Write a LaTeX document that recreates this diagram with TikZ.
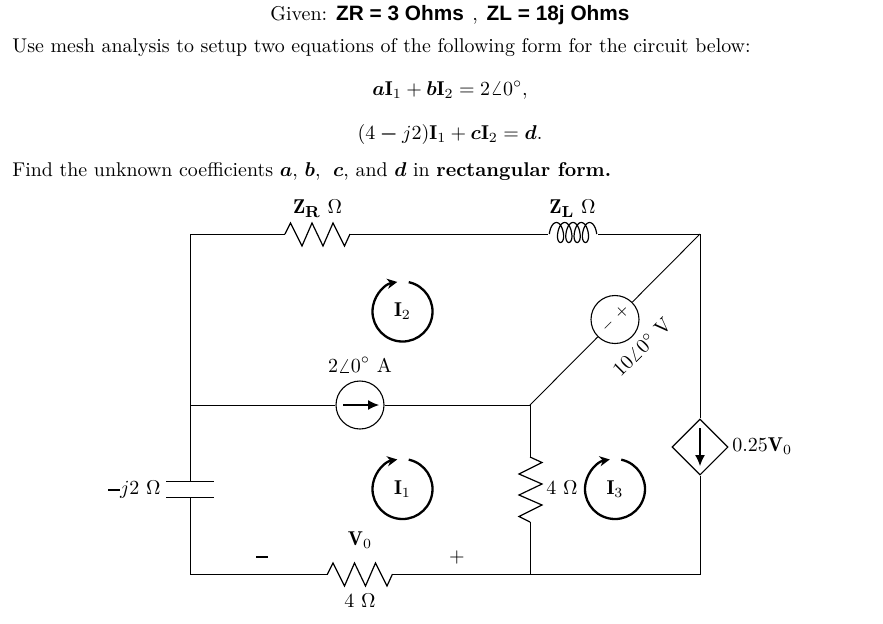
\documentclass[tikz,border=0pt]{standalone}
\usepackage{amsmath}
\usepackage{fontspec}
\newfontfamily\givenfont{Liberation Sans}
\usetikzlibrary{shapes.geometric,arrows.meta}
\tikzset{
    wire/.style={draw=black,line width=0.45pt},
    txt/.style={inner sep=0pt,anchor=base west},
    lbl/.style={inner sep=0pt,anchor=center},
    srccirc/.style={
        shape=circle,
        draw=black,
        line width=0.55pt,
        minimum size=24pt,
        inner sep=0pt,
    },
    depsrc/.style={
        shape=diamond,
        draw=black,
        line width=0.55pt,
        minimum size=28pt,
        inner sep=0pt,
    },
    srcarrow/.style={-{Latex[length=5.5pt,width=5pt]},line width=0.6pt},
    resistor/.pic={
        \draw[wire,line width=0.6pt] (-32.5,0) coordinate (-a) -- (-27,-11) -- (-15.5,12) -- (-5.5,-11)
            -- (5.5,12) -- (15.5,-11) -- (27,12) -- (32.5,0) coordinate (-b);
    },
    inductor/.pic={
        \coordinate (-a) at (-25,0);
        \coordinate (-b) at (25,0);
        \draw[wire,line width=0.6pt] plot[domain=-90:1530,samples=163,smooth]
            ({8.3*(\x-720)/360+5*sin(\x)},{-(cos(\x)>0?11.5:8.5)*cos(\x)});
    },
    meshloop/.pic={
        \draw[-{Stealth[length=5pt,width=5pt,inset=1.5pt]},line width=1.15pt] (-78:30) arc[start angle=-78,end angle=260,radius=30];
        \node[lbl] (-name) at (0,0) {$\mathbf{I}_{#1}$};
    },
}
\newcommand{\bigsub}[1]{\text{\footnotesize\bfseries #1}}
\newcommand{\heavyminus}{\rule[2.2pt]{6pt}{0.8pt}}
\begin{document}
\begin{tikzpicture}[x=0.5pt,y=-0.5pt]
    \useasboundingbox (0,0) rectangle (883,623);

    % text above the circuit
    \node[txt] (given) at (270,20) {Given: {\givenfont\bfseries\fontsize{10.4}{12}\selectfont ZR = 3 Ohms}\hspace{1pt} ,\hspace{1pt} {\givenfont\bfseries\fontsize{10.4}{12}\selectfont ZL = 18j Ohms}};
    \node[txt] (task) at (12,52) {\fontsize{9.95}{12}\selectfont Use mesh analysis to setup two equations of the following form for the circuit below:};
    \node[lbl] (eqone) at (450,90) {$\boldsymbol{a}\mathbf{I}_1+\boldsymbol{b}\mathbf{I}_2=2\angle 0^{\circ},$};
    \node[lbl] (eqtwo) at (450,134) {$(4\boldsymbol{-}j2)\mathbf{I}_1+\boldsymbol{c}\mathbf{I}_2=\boldsymbol{d}.$};
    \node[txt] (find) at (12,176) {\fontsize{9.95}{12}\selectfont Find the unknown coefficients $\boldsymbol{a}$, $\boldsymbol{b}$,\hspace{3pt} $\boldsymbol{c}$, and $\boldsymbol{d}$ in \textbf{rectangular form.}};

    % corners and junctions
    \coordinate (tl) at (190,234);
    \coordinate (tr) at (700,234);
    \coordinate (ml) at (190,405);
    \coordinate (mr) at (530,405);
    \coordinate (bl) at (190,574);
    \coordinate (bm) at (530,574);
    \coordinate (br) at (700,574);
    \coordinate (captop) at (190,481);
    \coordinate (capbot) at (190,497);

    % elements
    \pic (zr) at (317.5,234) {resistor};
    \pic (zl) at (573,234) {inductor};
    \pic (rbot) at (360,574) {resistor};
    \pic[rotate=90] (rmid) at (530,489.5) {resistor};
    \node[srccirc] (isrc) at (360,405) {};
    \node[srccirc] (vsrc) at (615,319.5) {};
    \node[depsrc] (dep) at (700,447) {};

    % wires
    \draw[wire] (ml) -- (tl) -- (zr-a);
    \draw[wire] (zr-b) -- (zl-a);
    \draw[wire] (zl-b) -- (tr) -- (dep.north);
    \draw[wire] (tr) -- (vsrc);
    \draw[wire] (vsrc) -- (mr);
    \draw[wire] (ml) -- (isrc);
    \draw[wire] (isrc) -- (mr);
    \draw[wire] (mr) -- (rmid-b);
    \draw[wire] (rmid-a) -- (bm);
    \draw[wire] (ml) -- (captop);
    \draw[wire] (capbot) -- (bl) -- (rbot-a);
    \draw[wire] (rbot-b) -- (bm) -- (br) -- (dep.south);

    % capacitor plates
    \draw[wire] ([xshift=-12pt]captop) -- ([xshift=12pt]captop);
    \draw[wire] ([xshift=-12pt]capbot) -- ([xshift=12pt]capbot);

    % arrows in the sources
    \draw[srcarrow] ([xshift=-8.5pt]isrc.center) -- ([xshift=9.5pt]isrc.center);
    \draw[srcarrow] ([yshift=9.5pt]dep.center) -- ([yshift=-9.5pt]dep.center);

    % mesh currents
    \pic (itwo) at (402.5,311.5) {meshloop=2};
    \pic (ione) at (402.5,489) {meshloop=1};
    \pic (ithree) at (615,489) {meshloop=3};

    % labels
    \node[lbl] (zrlbl) at (317.5,209) {$\mathbf{Z}_{\bigsub{R}}~\Omega$};
    \node[lbl] (zllbl) at (572.5,209) {$\mathbf{Z}_{\bigsub{L}}~\Omega$};
    \node[lbl] (isrclbl) at (360,365) {$2\angle 0^{\raisebox{1pt}{$\scriptstyle\circ$}}$~A};
    \node[lbl,rotate=45] (vplus) at (622,312) {\footnotesize$+$};
    \node[lbl,rotate=45] (vminus) at (608,326) {\scriptsize$-$};
    \node[lbl,rotate=45] (vsrclbl) at (642,347) {$10\angle 0^{\circ}$~V};
    \node[lbl,anchor=west] (deplbl) at (732,446) {$0.25\mathbf{V}_0$};
    \node[lbl,anchor=east] (caplbl) at (161,490) {\heavyminus$j2~\Omega$};
    \node[lbl,anchor=west] (rmidlbl) at (546,488) {$4~\Omega$};
    \node[lbl] (vzero) at (360,540) {$\mathbf{V}_0$};
    \node[lbl] (vneg) at (262,557) {\rule{6pt}{0.8pt}};
    \node[lbl] (vpos) at (457,557) {$+$};
    \node[lbl] (rbotlbl) at (360,601) {$4~\Omega$};
\end{tikzpicture}
\end{document}
